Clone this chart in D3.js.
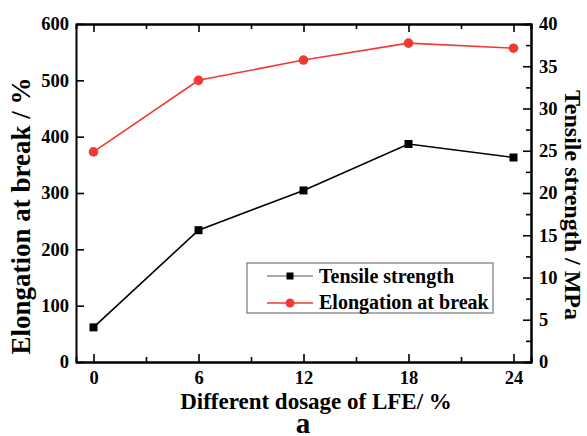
<!DOCTYPE html>
<html>
<head>
<meta charset="utf-8">
<script src="https://cdn.jsdelivr.net/npm/d3@7"></script>
<style>
  body { margin: 0; background: #fff; }
</style>
</head>
<body>
<svg id="chart" width="587" height="436" font-family="Liberation Serif" font-weight="bold"></svg>
<script>
'use strict';

const dosage = [0, 6, 12, 18, 24];
const tensile = [4.1, 15.6, 20.3, 25.8, 24.2];        // MPa, right axis
const elongation = [373, 500, 536, 566, 557];         // %, left axis
const xTicks = [0, 6, 12, 18, 24];
const xMinor = [3, 9, 15, 21];
const leftTicks = [0, 100, 200, 300, 400, 500, 600];
const rightTicks = [0, 5, 10, 15, 20, 25, 30, 35, 40];
const rightMinor = [2.5, 7.5, 12.5, 17.5, 22.5, 27.5, 32.5, 37.5];

const serif = 'Liberation Serif';
const red = '#f03a33';
const plotLeft = 76, plotRight = 531, plotTop = 24, plotBottom = 362;

const svg = d3.select('#chart');

const x = d3.scaleLinear().domain([-1, 25]).range([plotLeft, plotRight]);
const yL = d3.scaleLinear().domain([0, 600]).range([plotBottom, plotTop]);
const yR = d3.scaleLinear().domain([0, 40]).range([plotBottom, plotTop]);

// axes, ticks pointing inward
svg.append('g').attr('transform', `translate(0,${plotBottom})`)
    .call(d3.axisBottom(x).tickValues(xTicks).tickSizeInner(-8).tickSizeOuter(0).tickPadding(9));
svg.append('g').attr('transform', `translate(0,${plotBottom})`)
    .call(d3.axisBottom(x).tickValues(xMinor).tickSize(-5).tickFormat(''));
// top frame
svg.append('g').attr('transform', `translate(0,${plotTop})`)
    .call(d3.axisTop(x).tickValues(xTicks).tickSizeInner(-8).tickSizeOuter(0).tickFormat(''));
svg.append('g').attr('transform', `translate(0,${plotTop})`)
    .call(d3.axisTop(x).tickValues(xMinor).tickSize(-5).tickFormat(''));

svg.append('g').attr('transform', `translate(${plotLeft},0)`)
    .call(d3.axisLeft(yL).tickValues(leftTicks).tickSizeInner(-8).tickSizeOuter(0).tickPadding(7));

svg.append('g').attr('transform', `translate(${plotRight},0)`)
    .call(d3.axisRight(yR).tickValues(rightTicks).tickSizeInner(-8).tickSizeOuter(0).tickPadding(8));
svg.append('g').attr('transform', `translate(${plotRight},0)`)
    .call(d3.axisRight(yR).tickValues(rightMinor).tickSize(-5).tickFormat(''));

svg.selectAll('g').attr('font-family', serif).attr('font-weight', 'bold');
svg.selectAll('.domain').attr('stroke', '#000').attr('stroke-width', 2);
svg.selectAll('.tick line').attr('stroke', '#000').attr('stroke-width', 1.6);
svg.selectAll('.tick text').attr('font-size', 18.5).attr('fill', '#000');

// lines
svg.append('path')
    .datum(d3.zip(dosage, tensile))
    .attr('fill', 'none').attr('stroke', '#000').attr('stroke-width', 1.6)
    .attr('d', d3.line().x(d => x(d[0])).y(d => yR(d[1])));
svg.append('path')
    .datum(d3.zip(dosage, elongation))
    .attr('fill', 'none').attr('stroke', red).attr('stroke-width', 1.6)
    .attr('d', d3.line().x(d => x(d[0])).y(d => yL(d[1])));

svg.selectAll('rect.pt')
    .data(d3.zip(dosage, tensile))
    .enter().append('rect')
    .attr('x', d => x(d[0]) - 4).attr('y', d => yR(d[1]) - 4)
    .attr('width', 8).attr('height', 8).attr('fill', '#000');
svg.selectAll('circle.pt')
    .data(d3.zip(dosage, elongation))
    .enter().append('circle')
    .attr('cx', d => x(d[0])).attr('cy', d => yL(d[1]))
    .attr('r', 4.8).attr('fill', red);

// legend
const lg = svg.append('g').attr('transform', 'translate(247,263)');
lg.append('rect').attr('width', 246).attr('height', 50)
    .attr('fill', '#fff').attr('stroke', '#777').attr('stroke-width', 1.2);
lg.append('line').attr('x1', 20).attr('x2', 66).attr('y1', 13).attr('y2', 13)
    .attr('stroke', '#555').attr('stroke-width', 1);
lg.append('rect').attr('x', 39.5).attr('y', 9.5).attr('width', 7).attr('height', 7).attr('fill', '#000');
lg.append('text').attr('x', 72).attr('y', 20).attr('font-size', 20).text('Tensile strength');
lg.append('line').attr('x1', 20).attr('x2', 66).attr('y1', 40).attr('y2', 40)
    .attr('stroke', red).attr('stroke-width', 1.4);
lg.append('circle').attr('cx', 43).attr('cy', 40).attr('r', 4.5).attr('fill', red);
lg.append('text').attr('x', 72).attr('y', 46).attr('font-size', 20).text('Elongation at break');

// titles
svg.append('text').attr('transform', 'translate(30,216) rotate(-90)')
    .attr('text-anchor', 'middle').attr('font-size', 27).text('Elongation at break / %');
svg.append('text').attr('transform', 'translate(565,205) rotate(90)')
    .attr('text-anchor', 'middle').attr('font-size', 24).text('Tensile strength / MPa');
svg.append('text').attr('x', 316).attr('y', 409)
    .attr('text-anchor', 'middle').attr('font-size', 23).text('Different dosage of LFE/ %');
svg.append('text').attr('x', 303).attr('y', 433)
    .attr('text-anchor', 'middle').attr('font-size', 29).text('a');
</script>
</body>
</html>
